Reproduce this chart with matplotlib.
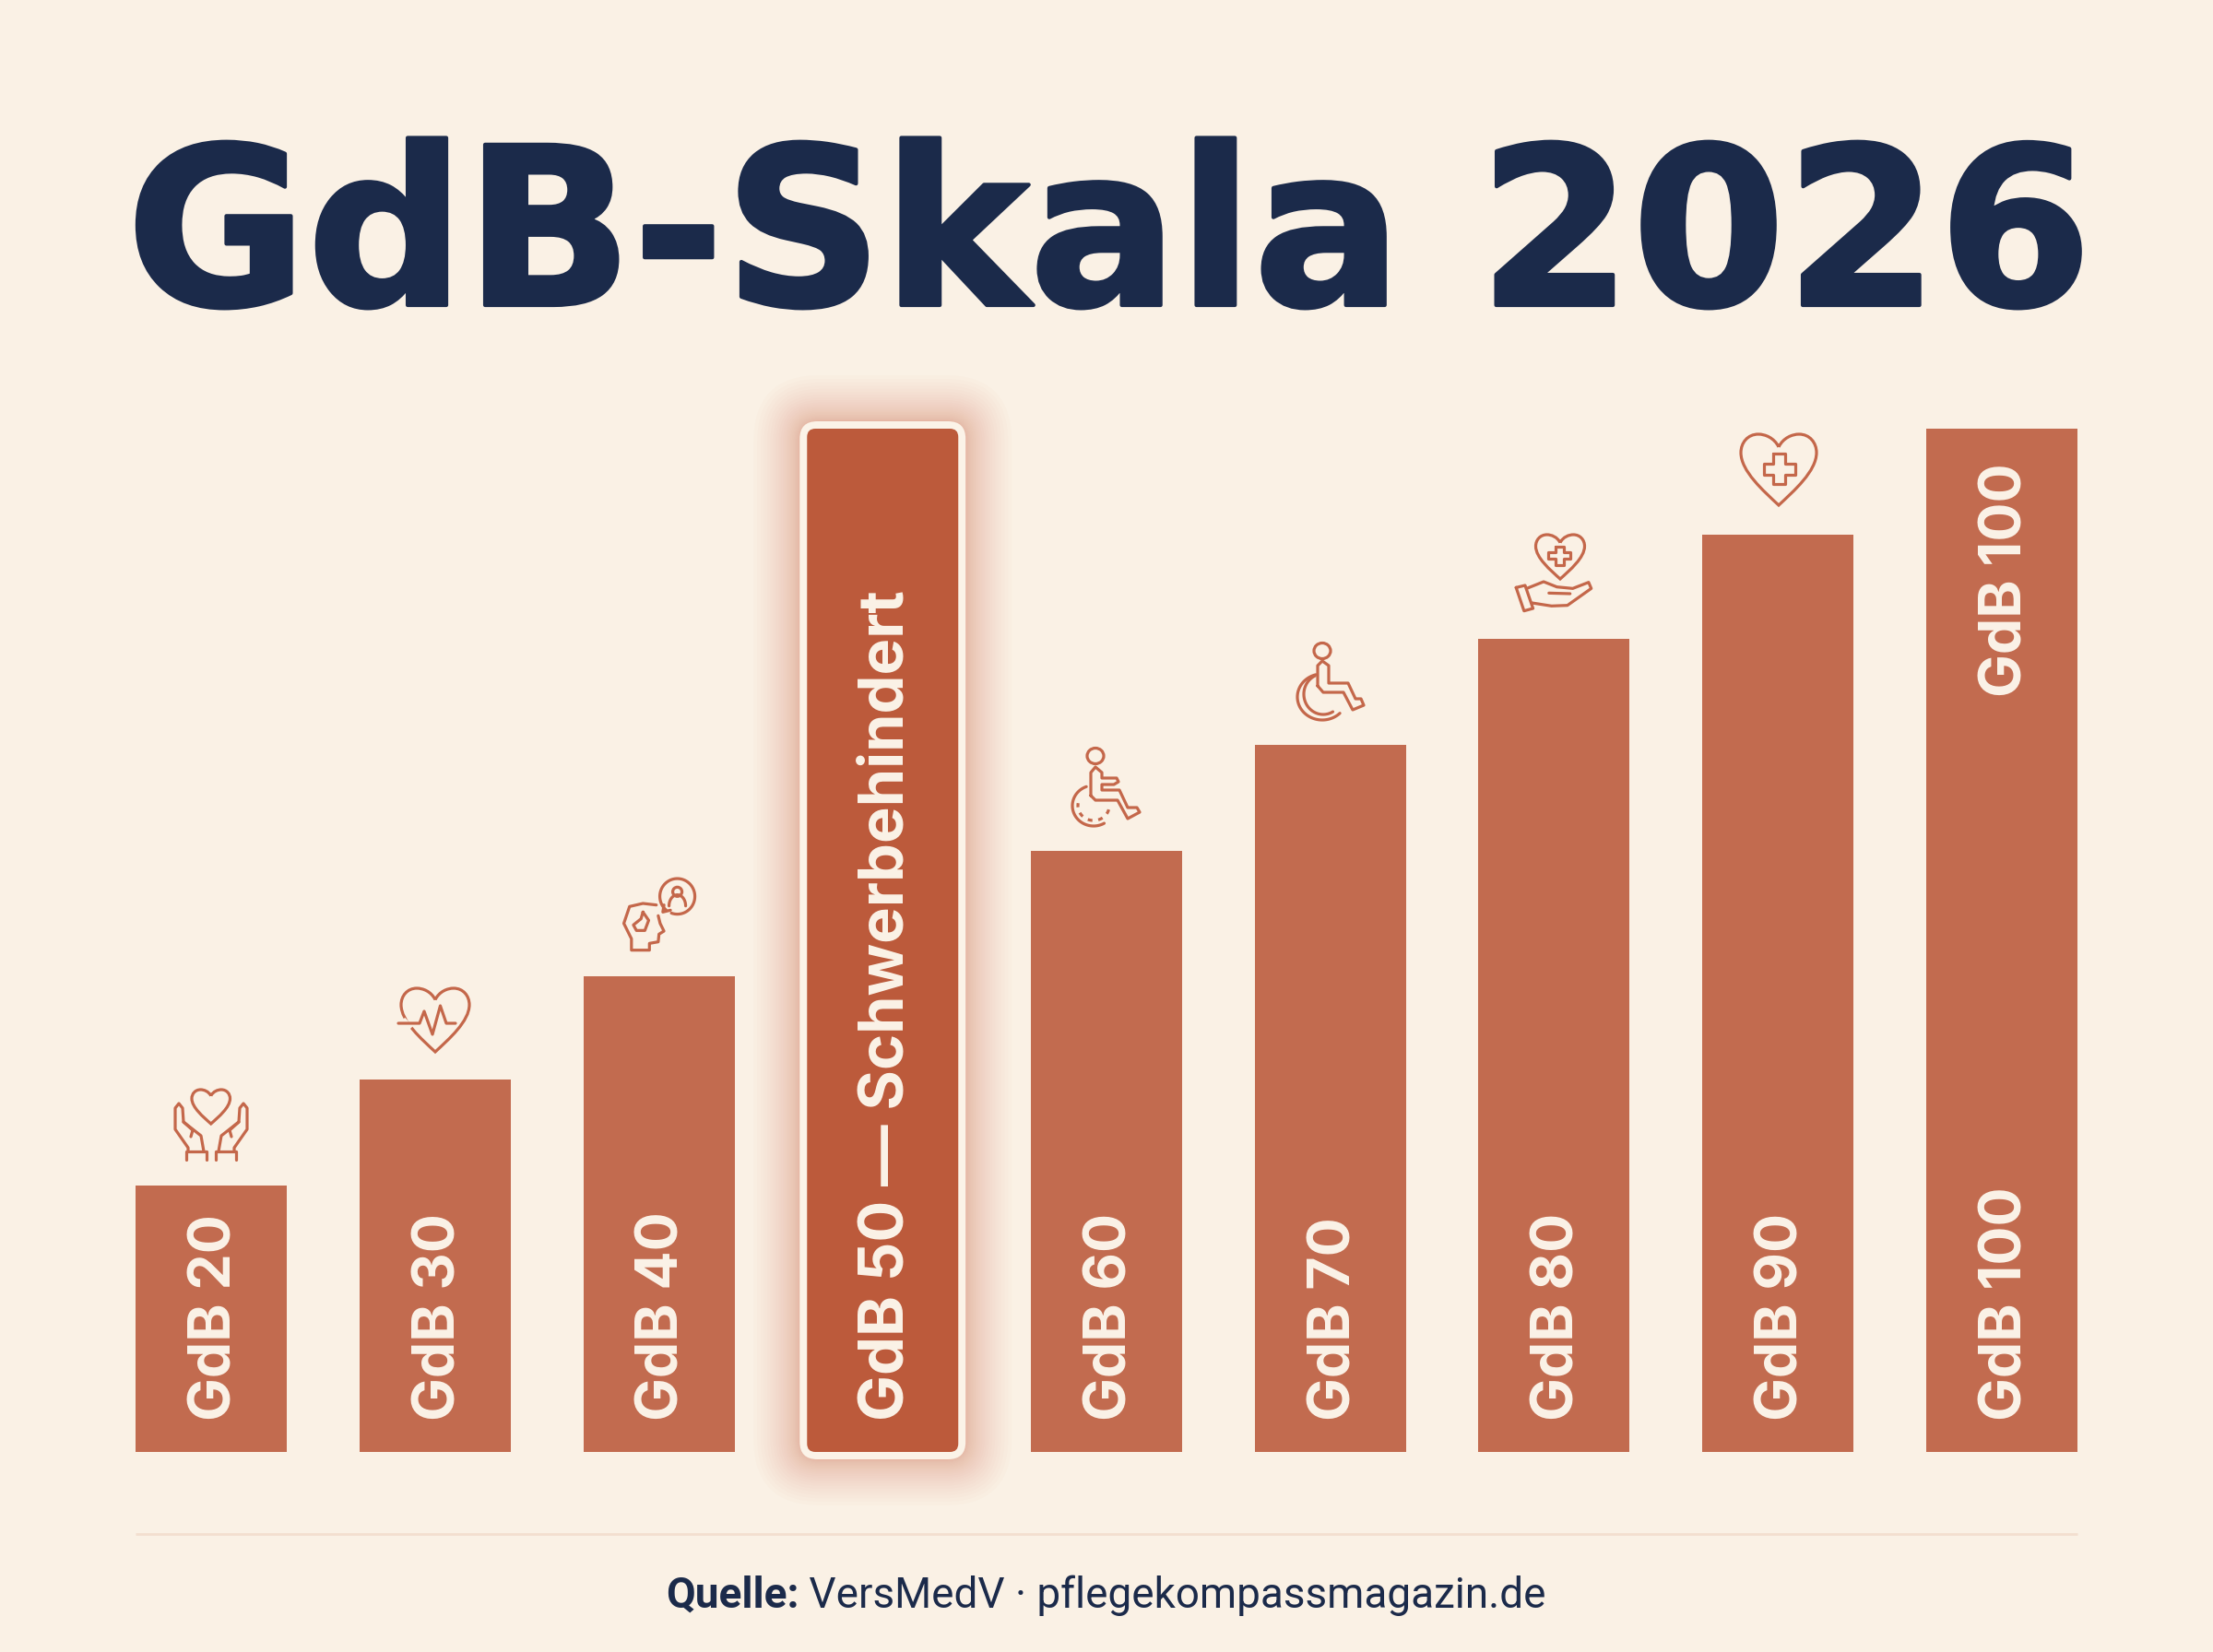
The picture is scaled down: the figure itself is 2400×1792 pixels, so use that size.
"""GdB-Skala 2026 bar chart with line icons."""

import numpy as np
import matplotlib

matplotlib.use("Agg")
import matplotlib.pyplot as plt
from matplotlib.patches import Ellipse, FancyBboxPatch, PathPatch
from matplotlib.path import Path
import matplotlib.patheffects as pe

BG = "#FAF1E5"
BAR = "#C26B4F"
BAR_HI = "#BC5A3B"
CREAM = "#FBF3E8"
NAVY = "#1B2A4A"
ICON = "#C4674A"
RULE = "#F3DFCF"

# Bar heights, relative to the tallest bar
labels = ["GdB 20", "GdB 30", "GdB 40", "GdB 50 — Schwerbehindert", "GdB 60",
          "GdB 70", "GdB 80", "GdB 90", "GdB 100"]
heights = [26.0, 36.4, 46.5, 100.0, 58.7, 69.1, 79.5, 89.6, 100.0]
highlight = 3

W, H = 2400, 1792
X0, XSTEP = 229.0, 242.75  # pixel position of first bar, spacing
Y0, YUNIT = 1575.0, 11.1   # pixel position of baseline, pixels per unit
ASPECT = XSTEP / YUNIT
ICON_LW = 1.15

fig = plt.figure(figsize=(W / 200, H / 200), dpi=200, facecolor=BG)

# Chart axes: fills the figure, limits chosen to land bars on the reference pixels
ax = fig.add_axes([0, 0, 1, 1], facecolor=BG)
ax.set_xlim(-X0 / XSTEP, (W - X0) / XSTEP)
ax.set_ylim(-(H - Y0) / YUNIT, Y0 / YUNIT)
ax.axis("off")

# Overlay in reference pixels for rule and icons
ov = fig.add_axes([0, 0, 1, 1], facecolor="none")
ov.set_xlim(0, W)
ov.set_ylim(H, 0)
ov.axis("off")


def rounded(x, y0, width, height, pad_px, radius_px, **kw):
    pad = pad_px / XSTEP
    patch = FancyBboxPatch(
        (x - width / 2, y0), width, height,
        boxstyle=f"round,pad={pad},rounding_size={(radius_px + pad_px) / XSTEP}",
        mutation_aspect=ASPECT, linewidth=0, **kw,
    )
    ax.add_patch(patch)
    return patch


bar_w = 164 / XSTEP
for i, (lab, v) in enumerate(zip(labels, heights)):
    if i == highlight:
        # Low alpha layers lose hue to 8-bit rounding, so keep them few
        for t in np.linspace(1, 0, 28):
            rounded(i, 0, bar_w, v, 8 + 50 * t**2.2, 14, color="#E67F62", alpha=0.024, zorder=1)
        rounded(i, 0, bar_w, v, 8, 11, color=CREAM, zorder=2)
        rounded(i, 0, bar_w, v, 0, 9, color=BAR_HI, zorder=3)
    else:
        ax.bar(i, v, width=bar_w, color=BAR, linewidth=0, zorder=3)
    ax.text(i + 0.02, 3.1, lab, rotation=90, ha="center", va="bottom", color=CREAM,
            fontsize=24 if i == highlight else 22.5, fontweight="bold", family="Inter", zorder=4)

# The repeated label at the top of the last bar
ax.text(8 + 0.02, 96.6, labels[8], rotation=90, ha="center", va="top", color=CREAM,
        fontsize=22.5, fontweight="bold", family="Inter", zorder=4)

# Title
title = ax.text((147 + 2258) / 2 / W, 1 - 331 / H, "GdB-Skala 2026", transform=ax.transAxes,
                ha="center", va="baseline", color=NAVY, fontsize=86, fontweight="bold",
                family="DejaVu Sans", zorder=5)
title.set_path_effects([pe.withStroke(linewidth=1.5, foreground=NAVY)])

# Footer
ov.plot([147, 2253], [1664, 1664], color=RULE, lw=1.0, solid_capstyle="butt")
src_a = ov.text(722, 1731, "Quelle:", ha="left", va="center", color=NAVY,
                fontsize=16.5, fontweight="bold", family="Roboto")
ov.annotate(" VersMedV · pflegekompassmagazin.de", xy=(1, 0.5), xycoords=src_a,
            ha="left", va="center", color=NAVY, fontsize=16.5, family="Roboto")


# ---------------------------------------------------------------------------
# Icons
# ---------------------------------------------------------------------------

def line(pts, closed=False, lw=ICON_LW, **kw):
    xs, ys = zip(*pts)
    if closed:
        xs, ys = xs + xs[:1], ys + ys[:1]
    ov.plot(xs, ys, color=ICON, lw=lw, solid_joinstyle="round", solid_capstyle="round", **kw)


def heart(x0, y0, w, h, lw=ICON_LW):
    u = [(.5, .18), (.44, .05), (.32, 0), (.23, 0), (.09, 0), (0, .12), (0, .26),
         (0, .52), (.3, .8), (.5, 1), (.7, .8), (1, .52), (1, .26),
         (1, .12), (.91, 0), (.77, 0), (.68, 0), (.56, .05), (.5, .18)]
    verts = [(x0 + a * w, y0 + b * h) for a, b in u]
    codes = [Path.MOVETO] + [Path.CURVE4] * 18
    ov.add_patch(PathPatch(Path(verts, codes), fill=False, edgecolor=ICON, lw=lw))


def cross(cx, cy, ax_, ay_, tx, ty):
    line([(cx - tx, cy - ay_), (cx + tx, cy - ay_), (cx + tx, cy - ty), (cx + ax_, cy - ty),
          (cx + ax_, cy + ty), (cx + tx, cy + ty), (cx + tx, cy + ay_), (cx - tx, cy + ay_),
          (cx - tx, cy + ty), (cx - ax_, cy + ty), (cx - ax_, cy - ty), (cx - tx, cy - ty)],
         closed=True)


def arc(cx, cy, rx, ry, a0, a1, **kw):
    ang = np.radians(np.linspace(a0, a1, 60))
    line(list(zip(cx + rx * np.cos(ang), cy + ry * np.sin(ang))), **kw)


def ring(cx, cy, rx, ry):
    ov.add_patch(Ellipse((cx, cy), 2 * rx, 2 * ry, fill=False, edgecolor=ICON, lw=ICON_LW))


def hand_pair():
    heart(208, 1182, 41.5, 37)
    left = [(204, 1249), (204, 1245), (190, 1225), (190, 1202), (194, 1197), (198, 1202),
            (199, 1217), (218, 1232), (221, 1249)]
    cuff = [(202, 1258), (202, 1249), (224, 1249), (224, 1258)]
    thumb = [(199, 1217), (209, 1226), (207, 1233)]
    for pts in (left, cuff, thumb):
        line(pts)
        line([(458 - x, y) for x, y in pts])


def ecg_heart():
    heart(435, 1072, 74, 69)
    ov.plot([437, 446], [1106, 1115], color=BG, lw=2.2, solid_capstyle="butt")
    line([(432, 1110), (455, 1110), (460, 1097), (469, 1122), (477.5, 1091), (484, 1110), (494, 1110)])


def head_bubble():
    sx = lambda x: 150 + x / 2.412
    sy = lambda y: 930 + y / 3
    conv = lambda pts: [(sx(x), sy(y)) for x, y in pts]
    line(conv([(1355, 155), (1320, 150), (1285, 160), (1270, 215), (1290, 265), (1290, 302),
               (1337, 302), (1337, 280), (1360, 275), (1362, 250), (1375, 240), (1365, 215), (1360, 190)]))
    line(conv([(1320, 178), (1335, 205), (1325, 238), (1303, 238), (1295, 220), (1315, 200)]), closed=True)
    arc(sx(1410), sy(127), 19, 19.3, 130, 470)
    line(conv([(1375, 155), (1372, 178), (1392, 172)]))
    ring(sx(1410), sy(112), 5, 5)
    arc(sx(1410), sy(158), 9, 12, 180, 360)


def wheelchair(ox, oy):
    # Dotted-wheel figure, drawn relative to its head centre
    ring(ox, oy, 9, 8.5)
    body = [(-5, 43), (-5, 18), (0, 12), (7, 18), (7, 24), (23, 24), (25, 28), (20, 31), (7, 31),
            (7, 37), (26, 37), (35, 56), (45, 56), (48, 61), (35, 68), (24, 48), (0, 48)]
    line([(ox + x, oy + y) for x, y in body], closed=True)
    arc(ox - 2, oy + 54, 23, 22, 60, 250)
    arc(ox - 2, oy + 54, 17, 16, 15, 190, ls=(0, (1.6, 2.0)))


def wheelchair_plain(ox, oy):
    ring(ox, oy, 9, 8.5)
    body = [(-5, 38), (-5, 16), (0, 11), (7, 16), (7, 35), (28, 35), (36, 52), (42, 52), (45, 59),
            (33, 64), (23, 45), (1, 45)]
    line([(ox + x, oy + y) for x, y in body], closed=True)
    arc(ox, oy + 50, 27, 25, 45, 255)
    arc(ox + 1, oy + 47, 21, 22, 60, 245)


def hand_heart():
    heart(1665.5, 580, 53, 48)
    cross(1691, 603, 12, 10, 4.5, 3.5)
    conv = lambda pts: [(1100 + x / 1.742, 450 + y / 3) for x, y in pts]
    line(conv([(948, 562), (965, 555), (980, 630), (963, 638)]), closed=True)
    line(conv([(968, 565), (1000, 543), (1025, 560), (1055, 565), (1085, 545), (1090, 565),
               (1045, 620), (1015, 622), (978, 612)]))
    line(conv([(1010, 580), (1050, 582)]))


def heart_plus():
    heart(1888, 471, 82, 77)
    cross(1929.5, 509, 17, 16.5, 6.5, 6)


hand_pair()
ecg_heart()
head_bubble()
wheelchair(1188, 820)
wheelchair_plain(1434, 706)
hand_heart()
heart_plus()

fig.savefig("out.png", dpi=200, facecolor=BG)
